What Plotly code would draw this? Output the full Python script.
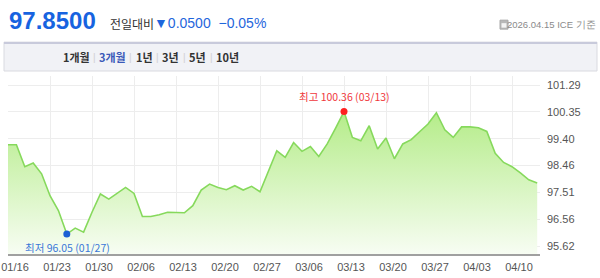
import plotly.graph_objects as go

dates = [
    "2026-01-16",
    "2026-01-19", "2026-01-20", "2026-01-21", "2026-01-22", "2026-01-23",
    "2026-01-26", "2026-01-27", "2026-01-28", "2026-01-29", "2026-01-30",
    "2026-02-02", "2026-02-03", "2026-02-04", "2026-02-05", "2026-02-06",
    "2026-02-09", "2026-02-10", "2026-02-11", "2026-02-12", "2026-02-13",
    "2026-02-16", "2026-02-17", "2026-02-18", "2026-02-19", "2026-02-20",
    "2026-02-23", "2026-02-24", "2026-02-25", "2026-02-26", "2026-02-27",
    "2026-03-02", "2026-03-03", "2026-03-04", "2026-03-05", "2026-03-06",
    "2026-03-09", "2026-03-10", "2026-03-11", "2026-03-12", "2026-03-13",
    "2026-03-16", "2026-03-17", "2026-03-18", "2026-03-19", "2026-03-20",
    "2026-03-23", "2026-03-24", "2026-03-25", "2026-03-26", "2026-03-27",
    "2026-03-30", "2026-03-31", "2026-04-01", "2026-04-02", "2026-04-03",
    "2026-04-06", "2026-04-07", "2026-04-08", "2026-04-09", "2026-04-10",
    "2026-04-13", "2026-04-14", "2026-04-15",
]
values = [
    99.19,
    99.19, 98.42, 98.55, 98.17, 97.40,
    96.88, 96.05, 96.26, 96.12, 96.82,
    97.46, 97.28, 97.48, 97.69, 97.48,
    96.67, 96.67, 96.73, 96.82, 96.80,
    96.80, 97.05, 97.60, 97.81, 97.69,
    97.61, 97.75, 97.60, 97.73, 97.54,
    98.28, 98.98, 98.75, 99.27, 98.96,
    99.13, 98.78, 99.22, 99.78, 100.36,
    99.45, 99.33, 99.86, 99.04, 99.43,
    98.70, 99.22, 99.37, 99.65, 99.92,
    100.32, 99.72, 99.45, 99.82, 99.82,
    99.79, 99.66, 98.89, 98.57, 98.42,
    98.20, 97.96, 97.85,
]
tick_dates = ["2026-01-16", "2026-01-23", "2026-01-30", "2026-02-06", "2026-02-13",
              "2026-02-20", "2026-02-27", "2026-03-06", "2026-03-13", "2026-03-20",
              "2026-03-27", "2026-04-03", "2026-04-10"]
tick_labels = ["01/16", "01/23", "01/30", "02/06", "02/13", "02/20", "02/27",
               "03/06", "03/13", "03/20", "03/27", "04/03", "04/10"]
y_ticks = [95.62, 96.56, 97.51, 98.46, 99.40, 100.35, 101.29]
y_tick_labels = ["95.62", "96.56", "97.51", "98.46", "99.40", "100.35", "101.29"]

high_date, high_value = "2026-03-13", 100.36
low_date, low_value = "2026-01-27", 96.05

current = "97.8500"
change = "▼0.0500"
change_pct = "−0.05%"
base_text = "2026.04.15 ICE 기준"
tabs = ["1개월", "3개월", "1년", "3년", "5년", "10년"]
active_tab = "3개월"

W, H = 600, 278
L, R, T, B = 8, 60, 76, 23.5
PW, PH = W - L - R, H - T - B


def px(x):
    return (x - L) / PW


def py(y):
    return (H - B - y) / PH


KFONT = "Noto Sans CJK KR"
NFONT = "Liberation Sans"

fig = go.Figure()
fig.add_trace(go.Scatter(
    x=dates, y=values, mode="lines",
    line=dict(color="#86d95c", width=1.6),
    fill="tozeroy",
    fillgradient=dict(type="vertical", start=95.3, stop=100.4,
                      colorscale=[[0, "rgba(248,253,244,1)"], [1, "rgba(180,236,136,1)"]]),
    hoverinfo="skip", showlegend=False,
))
fig.add_trace(go.Scatter(
    x=[high_date], y=[high_value], mode="markers",
    marker=dict(color="#ff2020", size=7),
    showlegend=False, cliponaxis=False,
))
fig.add_trace(go.Scatter(
    x=[low_date], y=[low_value], mode="markers",
    marker=dict(color="#1c5fd4", size=7),
    showlegend=False, cliponaxis=False,
))

fig.update_xaxes(
    type="date", automargin=False,
    rangebreaks=[dict(bounds=["sat", "mon"])],
    range=["2026-01-16", "2026-04-15 08:00"],
    tickvals=tick_dates, ticktext=tick_labels,
    showgrid=True, gridcolor="#ededed", gridwidth=1,
    showline=True, linecolor="#a0a0a0", linewidth=1.5,
    ticks="", ticklabelshift=7, ticklabelstandoff=2,
    tickfont=dict(family=NFONT, size=11, color="#555555"),
    zeroline=False,
)
fig.update_yaxes(
    side="right", automargin=False,
    range=[95.35, 101.61],
    tickvals=y_ticks, ticktext=y_tick_labels,
    showgrid=True, gridcolor="#ededed", gridwidth=1,
    showline=False, ticks="", ticklabelstandoff=6,
    tickfont=dict(family=NFONT, size=11, color="#555555"),
    zeroline=False,
)

shapes = [
    dict(type="rect", xref="paper", yref="paper",
         x0=px(4), x1=px(597), y0=py(71), y1=py(42),
         fillcolor="#f1f2f6", line=dict(color="#d9dae0", width=1), layer="below"),
    dict(type="line", xref="paper", yref="paper",
         x0=px(4), x1=px(597), y0=py(43), y1=py(43),
         line=dict(color="#c8cadb", width=2)),
    # small calendar icon
    dict(type="rect", xref="paper", yref="paper",
         x0=px(500), x1=px(508), y0=py(29), y1=py(20),
         fillcolor="#b8b8b8", line=dict(color="#a8a8a8", width=1)),
    dict(type="rect", xref="paper", yref="paper",
         x0=px(501.5), x1=px(506.5), y0=py(27.5), y1=py(23),
         fillcolor="#f4f4f4", line=dict(width=0)),
]

annotations = [
    dict(text=f"<b>{current}</b>", x=px(7), y=py(20.5), xanchor="left", yanchor="middle",
         font=dict(family=NFONT, size=24, color="#1763e0")),
    dict(text="전일대비", x=px(108), y=py(23), xanchor="left", yanchor="middle",
         font=dict(family=KFONT, size=12, color="#333333")),
    dict(text=f"{change}  {change_pct}", x=px(152), y=py(23), xanchor="left", yanchor="middle",
         font=dict(family=NFONT, size=14, color="#1f66dc")),
    dict(text=base_text, x=px(598), y=py(24), xanchor="right", yanchor="middle",
         font=dict(family=NFONT, size=9.5, color="#8a8a8a")),
    dict(text=f"최고 {high_value:.2f} ({high_date[5:7]}/{high_date[8:10]})",
         x=px(344.5), y=py(97), xanchor="center", yanchor="middle",
         font=dict(family=KFONT, size=10.5, color="#f0383c")),
    dict(text=f"최저 {low_value:.2f} ({low_date[5:7]}/{low_date[8:10]})",
         x=px(67.5), y=py(247.5), xanchor="center", yanchor="middle",
         font=dict(family=KFONT, size=10.5, color="#3a78d8")),
]
tab_x = [76, 112, 144.5, 170.5, 197.5, 227.5]
sep_x = [94, 130.5, 157, 184, 211]
for t, x in zip(tabs, tab_x):
    annotations.append(dict(
        text=f"<b>{t}</b>", x=px(x), y=py(57), xanchor="center", yanchor="middle",
        font=dict(family=KFONT, size=11, color="#3b59b8" if t == active_tab else "#333333")))
for x in sep_x:
    annotations.append(dict(text="|", x=px(x), y=py(57), xanchor="center", yanchor="middle",
                            font=dict(family=NFONT, size=10, color="#d0d0d0")))
for a in annotations:
    a.update(xref="paper", yref="paper", showarrow=False)

fig.update_layout(
    width=W, height=H,
    margin=dict(l=L, r=R, t=T, b=B),
    paper_bgcolor="white", plot_bgcolor="white",
    shapes=shapes, annotations=annotations,
    showlegend=False,
)

fig.write_html("out.html", config={"displayModeBar": False})
